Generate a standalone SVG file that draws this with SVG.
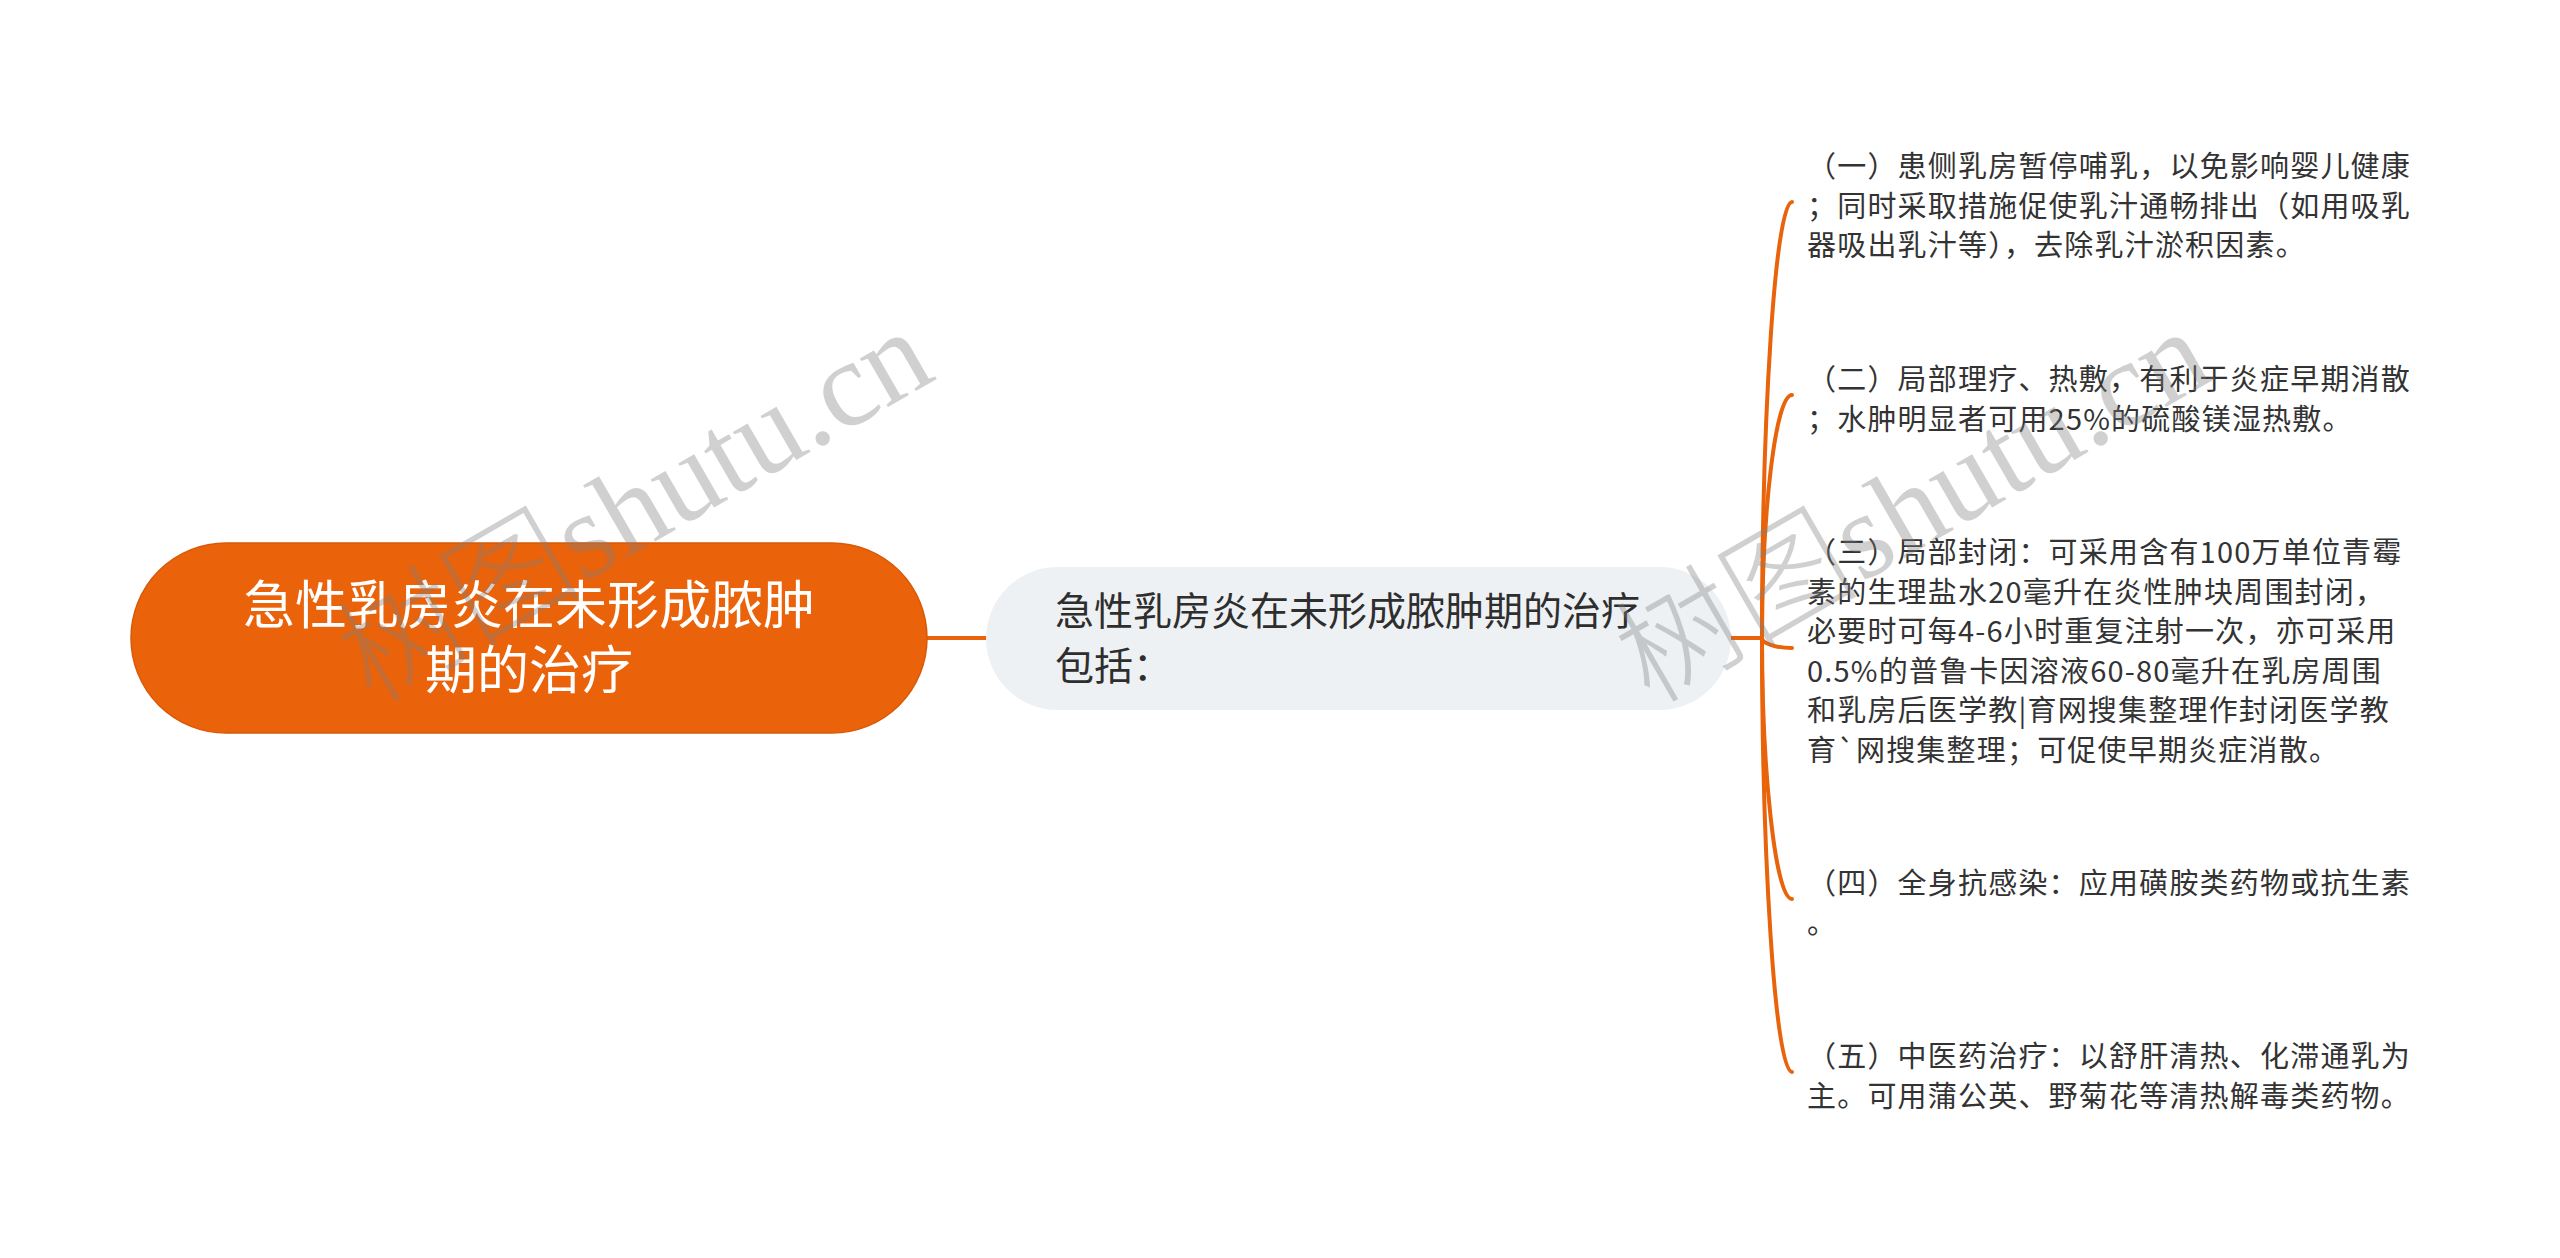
<svg xmlns="http://www.w3.org/2000/svg" width="2560" height="1258" viewBox="0 0 2560 1258">
  <style>
    .conn { fill: none; stroke: #E8630A; stroke-width: 4; stroke-linecap: round; }
    .root-shape { fill: #EA6209; stroke: #D85A08; stroke-width: 1.5; }
    .root-text { font-family: "Noto Sans CJK SC", "Noto Sans", sans-serif; font-size: 52px; fill: #FFFFFF; text-anchor: middle; }
    .mid-shape { fill: #EEF1F4; }
    .mid-text { font-family: "Noto Sans CJK SC", "Noto Sans", sans-serif; font-size: 39px; fill: #2E2E2E; }
    .leaf-text { font-family: "Noto Sans CJK SC", "Noto Sans", sans-serif; font-size: 29px; letter-spacing: 1.2px; fill: #333333; }
    .wm { font-family: "Liberation Serif", "Noto Sans CJK SC", serif; font-size: 122px; fill: #808080; opacity: 0.36; }
    .wm-cjk { font-family: "Noto Sans CJK SC", sans-serif; font-weight: 300; }
  </style>

  <rect width="2560" height="1258" fill="#FFFFFF"/>

  <g id="connectors">
    <line class="conn" x1="927" y1="638" x2="986" y2="638"/>
    <line class="conn" x1="1731" y1="638" x2="1762" y2="638"/>
    <path class="conn" d="M1762,638 C1762,420 1775,202 1792,202"/>
    <path class="conn" d="M1762,638 C1762,516 1775,395 1792,395"/>
    <path class="conn" d="M1762,638 C1762,643 1775,648 1792,648"/>
    <path class="conn" d="M1762,638 C1762,768 1775,899 1792,899"/>
    <path class="conn" d="M1762,638 C1762,855 1775,1072 1792,1072"/>
  </g>

  <g id="node-root">
    <rect class="root-shape" x="131" y="543" width="796" height="190" rx="95" ry="95"/>
    <text class="root-text" x="529" y="624">急性乳房炎在未形成脓肿</text>
    <text class="root-text" x="529" y="689">期的治疗</text>
  </g>

  <g id="node-main">
    <rect class="mid-shape" x="986" y="567" width="745" height="143" rx="71.5" ry="71.5"/>
    <text class="mid-text" x="1055" y="625">急性乳房炎在未形成脓肿期的治疗</text>
    <text class="mid-text" x="1055" y="680">包括：</text>
  </g>

  <g id="node-1">
    <text class="leaf-text" x="1807" y="177">（一）患侧乳房暂停哺乳，以免影响婴儿健康</text>
    <text class="leaf-text" x="1807" y="216.5">；同时采取措施促使乳汁通畅排出（如用吸乳</text>
    <text class="leaf-text" x="1807" y="256">器吸出乳汁等），去除乳汁淤积因素。</text>
  </g>

  <g id="node-2">
    <text class="leaf-text" x="1807" y="390">（二）局部理疗、热敷，有利于炎症早期消散</text>
    <text class="leaf-text" x="1807" y="429.5">；水肿明显者可用25%的硫酸镁湿热敷。</text>
  </g>

  <g id="node-3">
    <text class="leaf-text" x="1807" y="563">（三）局部封闭：可采用含有100万单位青霉</text>
    <text class="leaf-text" x="1807" y="602.5">素的生理盐水20毫升在炎性肿块周围封闭，</text>
    <text class="leaf-text" x="1807" y="642">必要时可每4-6小时重复注射一次，亦可采用</text>
    <text class="leaf-text" x="1807" y="681.5">0.5%的普鲁卡因溶液60-80毫升在乳房周围</text>
    <text class="leaf-text" x="1807" y="721">和乳房后医学教|育网搜集整理作封闭医学教</text>
    <text class="leaf-text" x="1807" y="760.5">育`网搜集整理；可促使早期炎症消散。</text>
  </g>

  <g id="node-4">
    <text class="leaf-text" x="1807" y="894">（四）全身抗感染：应用磺胺类药物或抗生素</text>
    <text class="leaf-text" x="1807" y="933.5">。</text>
  </g>

  <g id="node-5">
    <text class="leaf-text" x="1807" y="1067">（五）中医药治疗：以舒肝清热、化滞通乳为</text>
    <text class="leaf-text" x="1807" y="1106.5">主。可用蒲公英、野菊花等清热解毒类药物。</text>
  </g>

  <g id="watermarks">
    <text class="wm" transform="translate(372,705) rotate(-30)"><tspan class="wm-cjk">树图</tspan>shutu.cn</text>
    <text class="wm" transform="translate(1650,705) rotate(-30)"><tspan class="wm-cjk">树图</tspan>shutu.cn</text>
  </g>
</svg>
